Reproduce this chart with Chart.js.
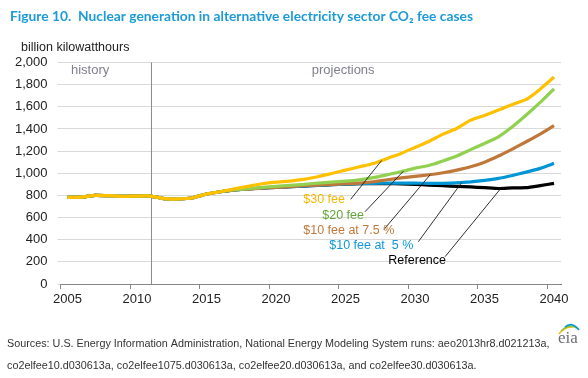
<!DOCTYPE html>
<html>
<head>
<meta charset="utf-8">
<script src="https://cdn.jsdelivr.net/npm/chart.js@4"></script>
<style>
  html, body { margin: 0; padding: 0; background: #fff; }
  #wrap { width: 588px; height: 378px; position: relative; }
</style>
</head>
<body>
<div id="wrap"><canvas id="nuclearChart"></canvas></div>
<script>
// categories (years) and axis tick labels
const years = ["2005", "2006", "2007", "2008", "2009", "2010", "2011", "2012", "2013", "2014", "2015", "2016",
  "2017", "2018", "2019", "2020", "2021", "2022", "2023", "2024", "2025", "2026", "2027", "2028",
  "2029", "2030", "2031", "2032", "2033", "2034", "2035", "2036", "2037", "2038", "2039", "2040"];
const xTickLabels = ["2005", "2010", "2015", "2020", "2025", "2030", "2035", "2040"];
const yTicks = [0, 200, 400, 600, 800, 1000, 1200, 1400, 1600, 1800, 2000];
const historyEndYear = "2011";

// billion kilowatthours
const fee30 = [782, 785, 800, 797, 791, 794, 794, 770, 768, 779, 812, 833,
  860, 881, 905, 920, 929, 944, 968, 998, 1028, 1058, 1088, 1134,
  1179, 1233, 1287, 1353, 1404, 1479, 1522, 1570, 1621, 1666, 1759, 1868];
const fee20 = [782, 785, 800, 797, 791, 794, 794, 770, 768, 779, 812, 833,
  851, 860, 872, 881, 890, 899, 911, 920, 928, 940, 960, 986,
  1013, 1046, 1070, 1110, 1155, 1213, 1269, 1329, 1419, 1525, 1639, 1762];
const fee10at75 = [782, 785, 800, 797, 791, 794, 794, 770, 768, 779, 812, 833,
  848, 857, 866, 872, 878, 887, 893, 899, 905, 911, 923, 941,
  958, 971, 986, 1004, 1028, 1058, 1100, 1155, 1218, 1284, 1353, 1430];
const fee10at5 = [782, 785, 800, 797, 791, 794, 794, 770, 768, 779, 812, 833,
  850, 858, 866, 872, 878, 884, 890, 896, 902, 906, 909, 910,
  910, 910, 909, 909, 914, 922, 935, 953, 980, 1010, 1044, 1089];
const reference = [782, 785, 800, 797, 791, 794, 794, 770, 768, 779, 812, 833,
  850, 858, 866, 872, 878, 884, 890, 896, 902, 905, 907, 906,
  904, 900, 893, 887, 881, 876, 870, 862, 868, 870, 888, 908];

// callout labels: text spot and leader line, in year / value units
const callouts = [
  { text: "$30 fee", color: "#f5b800", textAt: [2021.96, 758], from: [2025.37, 764], toYear: 2027.6, series: fee30 },
  { text: "$20 fee", color: "#62a83a", textAt: [2023.33, 622], from: [2026.4, 652], toYear: 2029.16, series: fee20 },
  { text: "$10 fee at 7.5 %", color: "#c07838", textAt: [2021.96, 483], from: [2027.77, 493], toYear: 2031.1, series: fee10at75 },
  { text: "$10 fee at  5 %", color: "#0e97d9", textAt: [2023.83, 343], from: [2030.24, 382], toYear: 2033.36, series: fee10at5 },
  { text: "Reference", color: "#000000", textAt: [2028.08, 210], from: [2032.16, 246], toYear: 2036.17, series: reference }
];

const baseFont = '"Liberation Sans", Arial, sans-serif';

function valueAt(series, year) {
  const i = year - Number(years[0]);
  const lo = Math.floor(i);
  const t = i - lo;
  return series[lo] + (series[lo + 1] - series[lo]) * t;
}

const annotations = {
  id: "annotations",
  beforeDatasetsDraw(chart) {
    const { ctx, chartArea, scales } = chart;
    const x = scales.x.getPixelForValue(years.indexOf(historyEndYear));
    ctx.save();
    ctx.strokeStyle = "#8c8c8c";
    ctx.lineWidth = 1;
    ctx.beginPath();
    ctx.moveTo(Math.round(x) + 0.5, chartArea.top);
    ctx.lineTo(Math.round(x) + 0.5, chartArea.bottom);
    ctx.stroke();

    ctx.font = "13px " + baseFont;
    ctx.fillStyle = "#80808f";
    ctx.textBaseline = "middle";
    ctx.fillText("history", scales.x.getPixelForValue(0.25), scales.y.getPixelForValue(1930));
    ctx.fillText("projections", scales.x.getPixelForValue(17.57), scales.y.getPixelForValue(1930));
    ctx.restore();
  },
  afterDatasetsDraw(chart) {
    const { ctx, scales } = chart;
    const first = Number(years[0]);
    const px = yr => scales.x.getPixelForValue(yr - first);
    const py = v => scales.y.getPixelForValue(v);
    ctx.save();
    ctx.font = "12.5px " + baseFont;
    ctx.textBaseline = "middle";
    callouts.forEach(c => {
      ctx.strokeStyle = "#1a1a1a";
      ctx.lineWidth = 0.9;
      ctx.beginPath();
      ctx.moveTo(px(c.from[0]), py(c.from[1]));
      ctx.lineTo(px(c.toYear), py(valueAt(c.series, c.toYear)));
      ctx.stroke();
      ctx.fillStyle = c.color;
      ctx.fillText(c.text, px(c.textAt[0]), py(c.textAt[1]));
    });
    ctx.restore();
  },
  afterDraw(chart) {
    const { ctx } = chart;
    ctx.save();
    ctx.textBaseline = "middle";
    ctx.fillStyle = "#222";
    ctx.font = "12.5px " + baseFont;
    ctx.fillText("billion kilowatthours", 21, 48);

    ctx.fillStyle = "#333";
    ctx.font = "10.8px " + baseFont;
    ctx.fillText("Sources: U.S. Energy Information Administration, National Energy Modeling System runs: aeo2013hr8.d021213a,", 7, 344.5);
    ctx.fillText("co2elfee10.d030613a, co2elfee1075.d030613a, co2elfee20.d030613a, and co2elfee30.d030613a.", 7, 366);

    // eia logo
    ctx.textBaseline = "alphabetic";
    ctx.fillStyle = "#6d6e71";
    ctx.font = '17px "Liberation Serif", serif';
    ctx.fillText("eia", 558, 343);
    ctx.lineWidth = 1.6;
    [["#fdb913", 559, 334, 565, 326, 573, 327], ["#8dc63f", 561, 331, 569, 323, 577, 328], ["#0096d6", 565, 327, 572, 321, 579, 330]]
      .forEach(a => {
        ctx.strokeStyle = a[0];
        ctx.beginPath();
        ctx.moveTo(a[1], a[2]);
        ctx.quadraticCurveTo(a[3], a[4], a[5], a[6]);
        ctx.stroke();
      });
    ctx.restore();
  }
};

function line(label, data, color) {
  return { label, data, borderColor: color, backgroundColor: color, borderWidth: 3.2, pointRadius: 0, tension: 0.15, fill: false };
}

new Chart(document.getElementById("nuclearChart"), {
  type: "line",
  data: {
    labels: years,
    datasets: [
      line("$30 fee", fee30, "#ffc000"),
      line("$20 fee", fee20, "#92d050"),
      line("$10 fee at 7.5 %", fee10at75, "#c0783a"),
      line("$10 fee at 5 %", fee10at5, "#0096d6"),
      line("Reference", reference, "#000000")
    ]
  },
  options: {
    responsive: true,
    maintainAspectRatio: false,
    animation: false,
    layout: { padding: { left: 10, right: 27, top: 0, bottom: 68 } },
    plugins: {
      legend: { display: false },
      tooltip: { enabled: false },
      title: {
        display: true,
        text: "Figure 10.  Nuclear generation in alternative electricity sector CO\u2082 fee cases",
        align: "start",
        color: "#1e9bd7",
        font: { family: "Lato", size: 13.8, weight: "bold" },
        padding: { top: 8, bottom: 37.9 }
      }
    },
    scales: {
      x: {
        type: "category",
        offset: true,
        afterFit: s => { s.height = 26; },
        grid: {
          offset: true,
          drawOnChartArea: false,
          tickLength: 5,
          color: c => (c.index !== undefined && xTickLabels.includes(years[c.index]) ? "#868686" : "rgba(0,0,0,0)")
        },
        border: { color: "#868686" },
        ticks: {
          autoSkip: false,
          maxRotation: 0,
          padding: 3,
          color: "#222",
          font: { family: "Liberation Sans", size: 13 },
          callback: (v, i) => (xTickLabels.includes(years[i]) ? years[i] : "")
        }
      },
      y: {
        min: 0,
        max: 2000,
        afterBuildTicks: s => { s.ticks = yTicks.map(v => ({ value: v })); },
        afterFit: s => { s.width = 50.5; },
        grid: { color: "#d9d9d9", tickLength: 3 },
        border: { display: false },
        ticks: {
          padding: 10,
          color: "#222",
          font: { family: "Liberation Sans", size: 13 },
          callback: v => v.toLocaleString("en-US")
        }
      }
    }
  },
  plugins: [annotations]
});
</script>
</body>
</html>
